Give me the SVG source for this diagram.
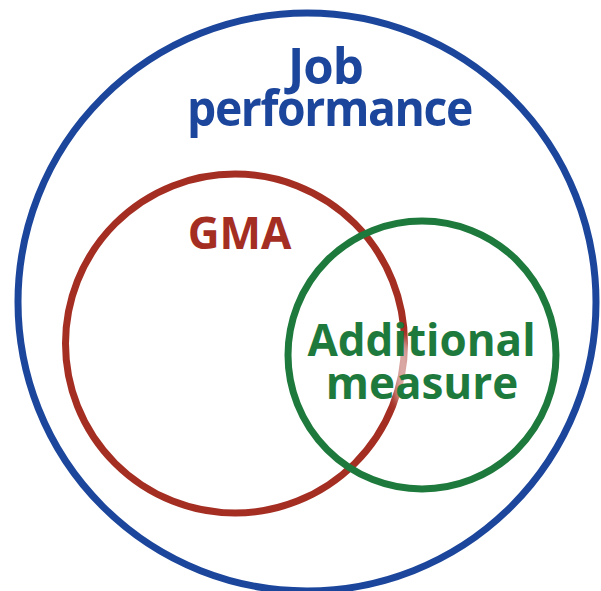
<svg xmlns="http://www.w3.org/2000/svg" width="601" height="591" viewBox="0 0 601 591">
  <style>
    .ring { fill: none; stroke-width: 7; }
    .label { font-family: "Open Sans", "Noto Sans", "Liberation Sans", sans-serif; font-weight: 700; text-anchor: middle; }
  </style>
  <defs>
    <filter id="soften" x="-100%" y="-50%" width="300%" height="200%">
      <feGaussianBlur stdDeviation="5"/>
    </filter>
  </defs>
  <rect width="601" height="591" fill="#ffffff"/>

  <g id="job-performance">
    <circle class="ring" cx="307" cy="302" r="289" stroke="#1c469c"/>
    <text class="label" fill="#1c469c" font-size="51" x="325.5" y="84" letter-spacing="-1" textLength="75" lengthAdjust="spacingAndGlyphs">Job</text>
    <text class="label" fill="#1c469c" font-size="51" x="329.5" y="126" letter-spacing="-1.5" textLength="285" lengthAdjust="spacingAndGlyphs">performance</text>
  </g>

  <g id="gma">
    <circle class="ring" cx="235" cy="343.5" r="169.5" stroke="#a52e23"/>
    <text class="label" fill="#a52e23" font-size="44" x="239.5" y="249">GMA</text>
  </g>

  <g id="additional-measure">
    <circle class="ring" cx="422" cy="355" r="134" stroke="#1e7a3c"/>
    <!-- light wash that lifts the red ring where it runs under the label -->
    <ellipse cx="403" cy="372" rx="10" ry="34" fill="#ffffff" opacity="0.6" filter="url(#soften)"/>
    <text class="label" fill="#1e7a3c" font-size="44" x="421.5" y="356">Additional</text>
    <text class="label" fill="#1e7a3c" font-size="44" x="422" y="399">measure</text>
  </g>
</svg>
